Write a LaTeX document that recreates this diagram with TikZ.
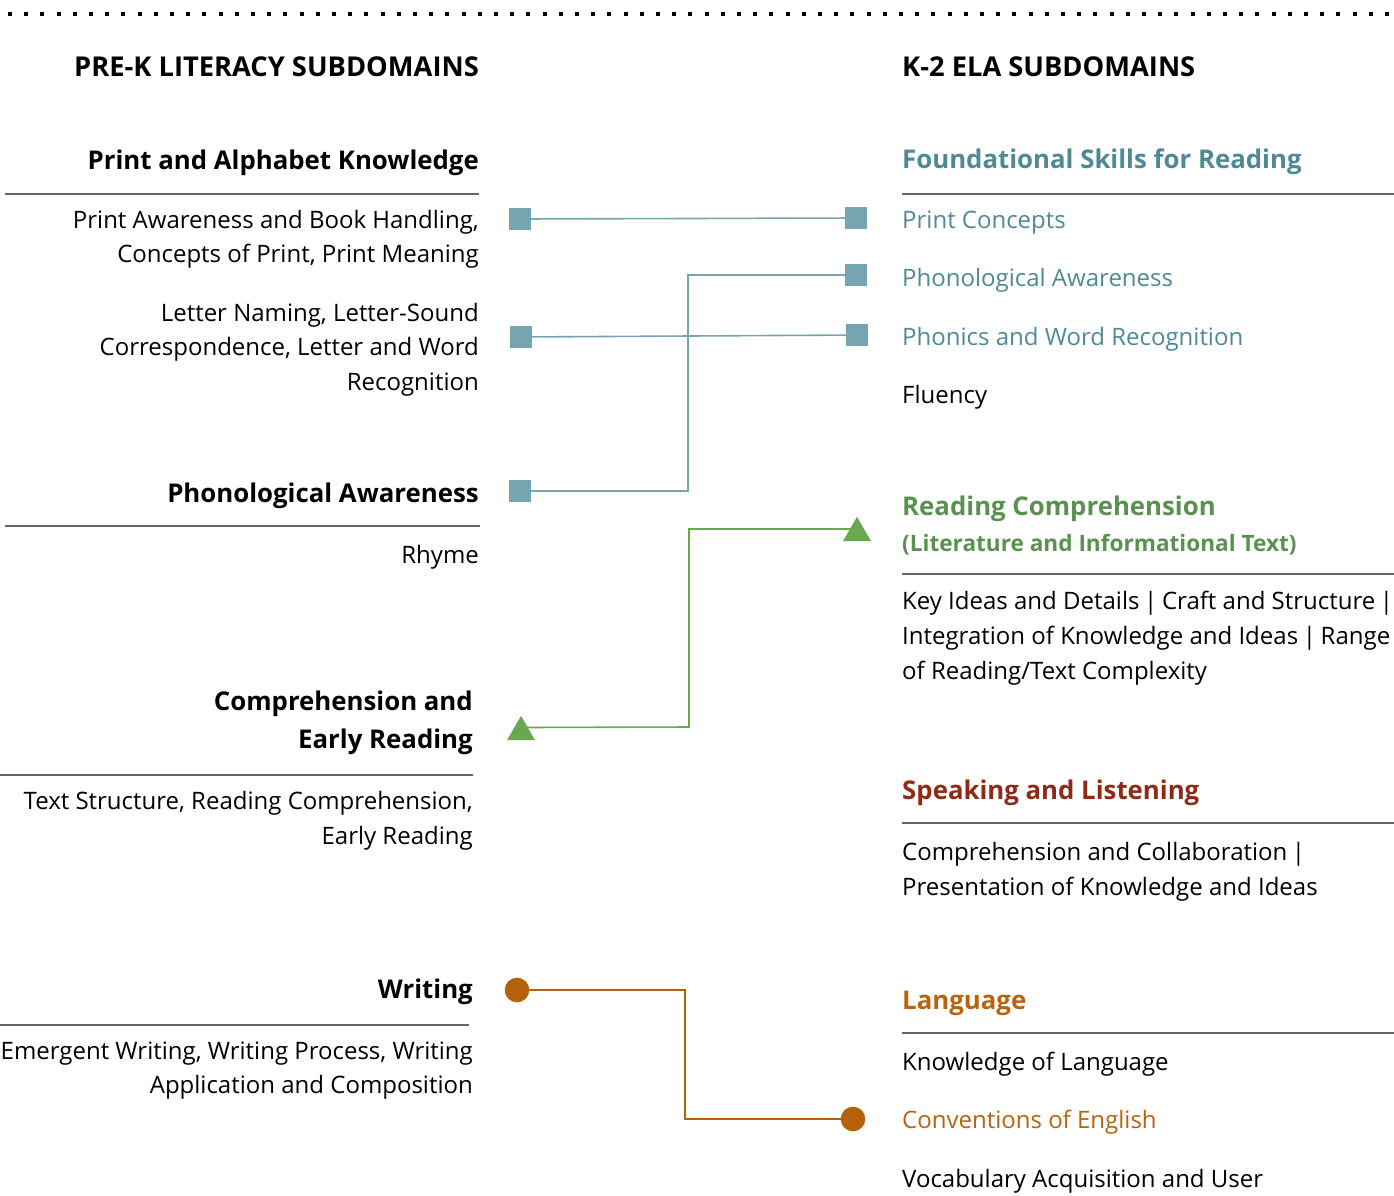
\documentclass[tikz,border=0pt]{standalone}
\usepackage{fontspec}
\setmainfont{Open Sans}
\usetikzlibrary{shapes.geometric,backgrounds}
\definecolor{tealtxt}{HTML}{4E8A96}
\definecolor{tealmk}{HTML}{76A5B1}
\definecolor{greentxt}{HTML}{5A9150}
\definecolor{greenmk}{HTML}{6AA84F}
\definecolor{redtxt}{HTML}{8E2A16}
\definecolor{orangetxt}{HTML}{B8630F}
\definecolor{orangemk}{HTML}{B5600A}
\definecolor{rulegray}{HTML}{666666}
\newcommand\bodyfont{\fontsize{24}{34}\selectfont}
\newcommand\headfont{\fontsize{25.8}{38}\selectfont\bfseries}
\newcommand\titlefont{\fontsize{27.3}{30}\selectfont\bfseries}
\newcommand\subheadfont{\fontsize{22.6}{30}\selectfont\bfseries}
\newcommand\vbar{\hspace{-1.6pt}|\hspace{-1.6pt}}
\begin{document}
\begin{tikzpicture}[x=1pt,y=-1pt,
  lt/.style={anchor=base east,inner sep=0pt},
  rt/.style={anchor=base west,inner sep=0pt},
  body/.style={font=\bodyfont},
  head/.style={font=\headfont},
  ttl/.style={font=\titlefont},
  rulel/.style={draw=rulegray,line width=2pt},
  sq/.style={rectangle,fill=tealmk,minimum size=22pt,inner sep=0pt},
  tri/.style={regular polygon,regular polygon sides=3,fill=greenmk,minimum size=32.3pt,inner sep=0pt},
  dotm/.style={circle,fill=orangemk,minimum size=24.6pt,inner sep=0pt},
  conn/.style={line width=1.6pt}]
\useasboundingbox (0,0) rectangle (1394,1195);
% top dotted line
\coordinate (dotA) at (8,14);
\coordinate (dotB) at (1394,14);
\draw[line width=4pt,dash pattern=on 4pt off 12.2pt] (dotA) -- (dotB);
% titles
\node[lt,ttl] (tL) at (479,76) {PRE-K LITERACY SUBDOMAINS};
\node[rt,ttl] (tR) at (902,76) {K-2 ELA SUBDOMAINS};
% ---------- left column ----------
\node[lt,head] (h1) at (479,169) {Print and Alphabet Knowledge};
\coordinate (r1a) at (5,194); \coordinate (r1b) at (479,194);
\draw[rulel] (r1a) -- (r1b);
\node[lt,body] (b1a) at (479,228) {Print Awareness and Book Handling,};
\node[lt,body] (b1b) at (479,262) {Concepts of Print, Print Meaning};
\node[lt,body] (b2a) at (479,321) {Letter Naming, Letter-Sound};
\node[lt,body] (b2b) at (479,355) {Correspondence, Letter and Word};
\node[lt,body] (b2c) at (479,390) {Recognition};
\node[lt,head] (h2) at (479,502) {Phonological Awareness};
\coordinate (r2a) at (5,526); \coordinate (r2b) at (480,526);
\draw[rulel] (r2a) -- (r2b);
\node[lt,body] (b3) at (479,563) {Rhyme};
\node[lt,head] (h3a) at (473,710) {Comprehension and};
\node[lt,head] (h3b) at (473,748) {Early Reading};
\coordinate (r3a) at (0,775); \coordinate (r3b) at (473,775);
\draw[rulel] (r3a) -- (r3b);
\node[lt,body] (b4a) at (473,809) {Text Structure, Reading Comprehension,};
\node[lt,body] (b4b) at (473,844) {Early Reading};
\node[lt,head] (h4) at (473,998) {Writing};
\coordinate (r4a) at (0,1025); \coordinate (r4b) at (469,1025);
\draw[rulel] (r4a) -- (r4b);
\node[lt,body] (b5a) at (473,1059) {Emergent Writing, Writing Process, Writing};
\node[lt,body] (b5b) at (473,1093) {Application and Composition};
% ---------- right column ----------
\node[rt,head,text=tealtxt] (H1) at (902,168) {Foundational Skills for Reading};
\coordinate (R1a) at (902,194); \coordinate (R1b) at (1394,194);
\draw[rulel] (R1a) -- (R1b);
\node[rt,body,text=tealtxt] (B1) at (902,228) {Print Concepts};
\node[rt,body,text=tealtxt] (B2) at (902,286) {Phonological Awareness};
\node[rt,body,text=tealtxt] (B3) at (902,345) {Phonics and Word Recognition};
\node[rt,body] (B4) at (902,403) {Fluency};
\node[rt,head,text=greentxt] (H2a) at (902,515) {Reading Comprehension};
\node[rt,font=\subheadfont,text=greentxt] (H2b) at (902,551) {(Literature and Informational Text)};
\coordinate (R2a) at (902,574); \coordinate (R2b) at (1394,574);
\draw[rulel] (R2a) -- (R2b);
\node[rt,body] (B5a) at (902,609) {Key Ideas and Details \vbar{} Craft and Structure \vbar};
\node[rt,body] (B5b) at (902,644) {Integration of Knowledge and Ideas \vbar{} Range};
\node[rt,body] (B5c) at (902,679) {of Reading/Text Complexity};
\node[rt,head,text=redtxt] (H3) at (902,799) {Speaking and Listening};
\coordinate (R3a) at (902,823); \coordinate (R3b) at (1394,823);
\draw[rulel] (R3a) -- (R3b);
\node[rt,body] (B6a) at (902,860) {Comprehension and Collaboration \vbar};
\node[rt,body] (B6b) at (902,895) {Presentation of Knowledge and Ideas};
\node[rt,head,text=orangetxt] (H4) at (902,1009) {Language};
\coordinate (R4a) at (902,1033); \coordinate (R4b) at (1394,1033);
\draw[rulel] (R4a) -- (R4b);
\node[rt,body] (B7) at (902,1070) {Knowledge of Language};
\node[rt,body,text=orangetxt] (B8) at (902,1128) {Conventions of English};
\node[rt,body] (B9) at (902,1187) {Vocabulary Acquisition and User};
% ---------- markers ----------
\node[sq] (sL1) at (520,219) {};
\node[sq] (sR1) at (856,218) {};
\node[sq] (sR2) at (856,275) {};
\node[sq] (sL3) at (521,337) {};
\node[sq] (sR3) at (857,335) {};
\node[sq] (sL4) at (520,491) {};
\node[tri] (gL) at (521,732) {};
\node[tri] (gR) at (857,533) {};
\node[dotm] (oL) at (517,990) {};
\node[dotm] (oR) at (853,1119) {};
\coordinate (tealbend) at (688,0);
\coordinate (greenbend) at (689,0);
\coordinate (orangebend) at (685,0);
% ---------- connectors ----------
\begin{scope}[on background layer]
\draw[conn,tealmk] (sL1.center) -- (sR1.center);
\draw[conn,tealmk] (sL3.center) -- (sR3.center);
\draw[conn,tealmk] (sL4.center) -- (tealbend |- sL4.center) -- (tealbend |- sR2.center) -- (sR2.center);
\draw[conn,greenmk] ([yshift=4.5pt]gL.center) -- (greenbend |- 0,727) -- (greenbend |- 0,529) -- ([yshift=4pt]gR.center);
\draw[conn,orangemk] (oL.center) -- (orangebend |- oL.center) -- (orangebend |- oR.center) -- (oR.center);
\end{scope}
\end{tikzpicture}
\end{document}
